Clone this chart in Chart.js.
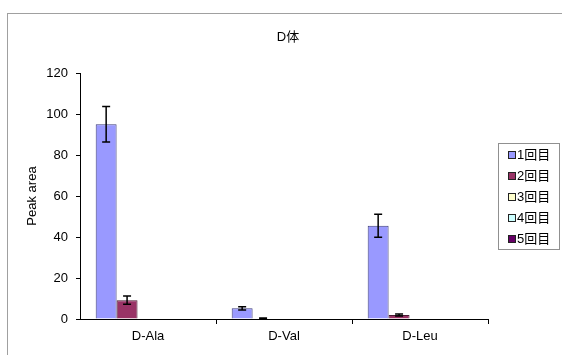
<!DOCTYPE html>
<html lang="ja">
  <head>
    <meta charset="UTF-8" />
    <title>D体</title>
    <style>
      * {
        margin: 0;
        padding: 0;
        box-sizing: border-box;
      }
      body {
        width: 562px;
        height: 355px;
        overflow: hidden;
        background: #ffffff;
        font-family: "Liberation Sans", "Noto Sans CJK JP", sans-serif;
        position: relative;
      }
      .frame {
        position: absolute;
        left: 7px;
        top: 13px;
        width: 620px;
        height: 400px;
        border: 1px solid #a0a0a0;
      }
      #chartWrap {
        position: absolute;
        left: 0;
        top: 0;
        width: 562px;
        height: 355px;
      }
      .title {
        position: absolute;
        left: 238px;
        width: 100px;
        top: 26px;
        text-align: center;
        font-size: 13px;
        color: #000;
      }
      .legend {
        position: absolute;
        left: 498px;
        top: 143px;
        width: 62px;
        height: 107px;
        border: 1px solid #909090;
        padding: 2px 0 0 9px;
      }
      .legend div {
        height: 21px;
        line-height: 15px;
        font-size: 13px;
        display: flex;
        align-items: flex-start;
        padding-top: 1px;
      }
      .legend span.sw {
        display: inline-block;
        width: 8px;
        height: 8px;
        border: 1px solid #222;
        margin: 4px 1px 0 0;
      }
    </style>
    <script src="https://cdn.jsdelivr.net/npm/chart.js@4.4.0/dist/chart.umd.min.js"></script>
  </head>
  <body>
    <div class="frame"></div>
    <div id="chartWrap"><canvas id="myChart" width="562" height="355"></canvas></div>
    <div class="title">D体</div>
    <div class="legend" id="legend"></div>

    <script>
      // data
      const categories = ["D-Ala", "D-Val", "D-Leu"];
      const seriesNames = ["1回目", "2回目", "3回目", "4回目", "5回目"];
      const run1 = [95, 5.2, 45.5];
      const run1Err = [8.7, 0.8, 5.6];
      const run2 = [9.2, 0.3, 2.0];
      const run2Err = [2.0, 0.2, 0.5];
      const run3 = [0, 0, 0];
      const run4 = [0, 0, 0];
      const run5 = [0, 0, 0];
      const noErr = [0, 0, 0];
      const yTicks = [0, 20, 40, 60, 80, 100, 120];

      const fills = ["#9999ff", "#993366", "#ffffcc", "#ccffff", "#660066"];
      const edges = ["#3d3d7a", "#4a1a33", "#555544", "#445555", "#220022"];
      const values = [run1, run2, run3, run4, run5];
      const errs = [run1Err, run2Err, noErr, noErr, noErr];

      // legend (html, built from the names)
      const legendEl = document.getElementById("legend");
      seriesNames.forEach((name, i) => {
        legendEl.innerHTML += `<div><span class="sw" style="background:${fills[i]}"></span>${name}</div>`;
      });

      const errorBars = {
        id: "errorBars",
        afterDatasetsDraw(chart) {
          const ctx = chart.ctx;
          const y = chart.scales.y;
          ctx.save();
          ctx.strokeStyle = "#000";
          ctx.lineWidth = 1.5;
          chart.data.datasets.forEach((ds, i) => {
            const meta = chart.getDatasetMeta(i);
            meta.data.forEach((bar, j) => {
              const e = ds.errors[j];
              if (!e) return;
              const v = ds.data[j];
              const top = y.getPixelForValue(v + e);
              const bot = y.getPixelForValue(Math.max(v - e, 0));
              const x = bar.x;
              ctx.beginPath();
              ctx.moveTo(x, top);
              ctx.lineTo(x, bot);
              ctx.moveTo(x - 4, top);
              ctx.lineTo(x + 4, top);
              ctx.moveTo(x - 4, bot);
              ctx.lineTo(x + 4, bot);
              ctx.stroke();
            });
          });
          ctx.restore();
        },
      };

      const font = { family: "'Liberation Sans', 'Noto Sans CJK JP', sans-serif", size: 13 };

      new Chart(document.getElementById("myChart").getContext("2d"), {
        type: "bar",
        data: {
          labels: categories,
          datasets: seriesNames.map((name, i) => ({
            label: name,
            data: values[i],
            errors: errs[i],
            backgroundColor: fills[i],
            borderColor: edges[i],
            borderWidth: 1,
            borderSkipped: "start",
            categoryPercentage: 5 / 6.5,
            barPercentage: 1,
          })),
        },
        options: {
          responsive: false,
          animation: false,
          layout: { padding: { left: 8, right: 74, top: 73, bottom: 0 } },
          plugins: {
            legend: { display: false },
            title: { display: false },
            tooltip: { enabled: false },
          },
          scales: {
            x: {
              afterFit: (s) => {
                s.height = 36;
              },
              grid: {
                drawOnChartArea: false,
                tickLength: 5,
                color: (c) => (c.index === 0 ? "rgba(0,0,0,0)" : "#000"),
              },
              border: { color: "#000", width: 1 },
              ticks: { color: "#000", font: font, padding: 5 },
            },
            y: {
              min: 0,
              max: 120,
              afterFit: (s) => {
                s.width = 72;
              },
              afterBuildTicks: (s) => {
                s.ticks = yTicks.map((v) => ({ value: v }));
              },
              grid: { drawOnChartArea: false, tickLength: 4, color: "#000" },
              border: { color: "#000", width: 1 },
              ticks: { color: "#000", font: font, padding: 8 },
              title: {
                display: true,
                text: "Peak area",
                color: "#000",
                font: font,
                padding: { top: 17 },
              },
            },
          },
        },
        plugins: [errorBars],
      });
    </script>
  </body>
</html>
